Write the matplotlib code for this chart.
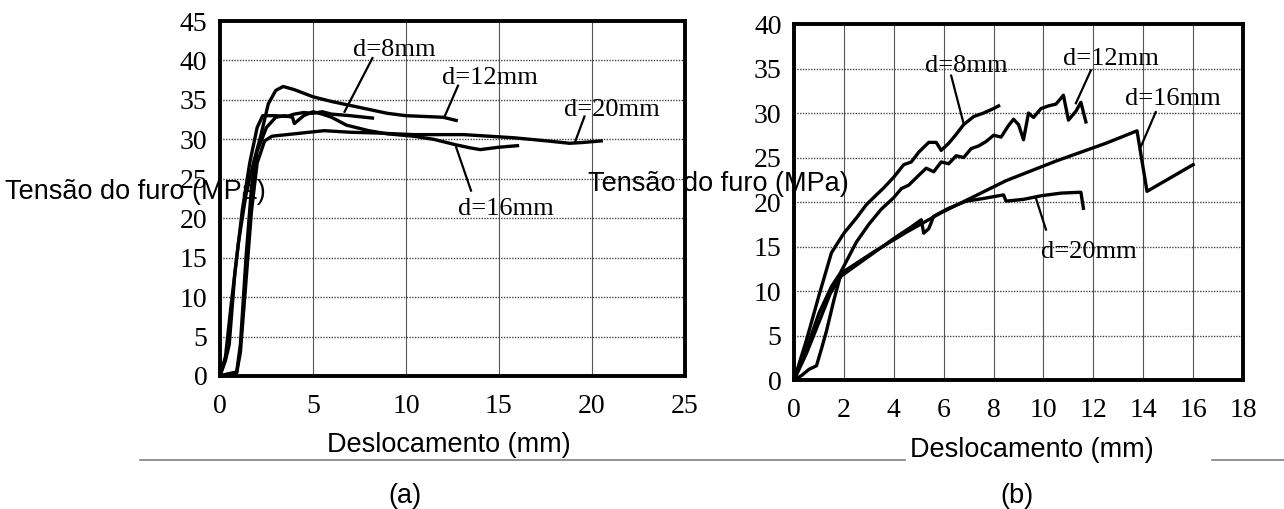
import matplotlib
matplotlib.use('Agg')
import matplotlib.pyplot as plt
from matplotlib.lines import Line2D

# ---- panel (a) data ----
a8_x = [0, 0.3, 0.5, 0.8, 1.2, 1.6, 2.0, 2.3, 3.0, 3.6, 4.0, 4.5, 5.0, 5.5, 6.0, 7.0, 8.2]
a8_y = [0, 2, 4, 13, 21, 27, 31.5, 33.0, 33.0, 32.9, 33.2, 33.4, 33.3, 33.5, 33.2, 33.0, 32.7]
a12_x = [0, 0.3, 0.6, 1.0, 1.4, 1.8, 2.2, 2.6, 3.0, 3.4, 4.0, 5.0, 6.0, 7.0, 8.0, 9.0, 10.0, 11.0, 12.0, 12.7]
a12_y = [0, 2.5, 9, 17, 23, 27, 30.5, 34.5, 36.2, 36.7, 36.3, 35.4, 34.8, 34.3, 33.8, 33.3, 33.0, 32.9, 32.8, 32.4]
a16_x = [0, 0.5, 0.9, 1.1, 1.4, 1.7, 2.0, 2.5, 3.0, 3.5, 3.9, 4.0, 4.5, 5.0, 5.5, 6.0, 6.8, 8.0, 9.0,
         10.4, 11.5, 12.7, 13.5, 14.0, 15.0, 16.0]
a16_y = [0, 0.3, 0.5, 4, 15, 24, 28.5, 31.5, 32.8, 33.0, 32.8, 32.0, 33.0, 33.5, 33.2, 32.8, 31.8, 31.1, 30.7,
         30.4, 30.0, 29.3, 28.9, 28.7, 29.0, 29.2]
a20_x = [0, 0.5, 0.9, 1.1, 1.4, 1.7, 2.0, 2.4, 2.8, 4.0, 5.6, 7.0, 8.5, 10.4, 13.1, 15.8, 17.6, 18.8, 19.5, 20.5]
a20_y = [0, 0.3, 0.4, 3, 12, 21, 27, 29.8, 30.4, 30.7, 31.1, 30.9, 30.8, 30.6, 30.6, 30.2, 29.8, 29.5, 29.6, 29.8]

# ---- panel (b) data ----
b8_x = [0, 0.5, 1.0, 1.5, 2.0, 2.5, 2.9, 3.3, 3.6, 4.0, 4.4, 4.7, 5.0, 5.4, 5.7, 5.9, 6.2, 6.5, 6.8,
        7.2, 7.6, 8.0, 8.2]
b8_y = [0, 4.5, 9.5, 14.3, 16.5, 18.2, 19.7, 20.8, 21.6, 22.8, 24.2, 24.5, 25.6, 26.7, 26.7, 25.8, 26.6,
        27.6, 28.7, 29.6, 30.0, 30.5, 30.8]
b12_x = [0, 0.5, 1.0, 1.5, 1.85, 2.5, 3.0, 3.5, 4.0, 4.3, 4.6, 5.0, 5.3, 5.6, 5.9, 6.2, 6.5, 6.8, 7.1, 7.4,
         7.7, 8.0, 8.3, 8.6, 8.8, 9.0, 9.2, 9.4, 9.6, 9.9, 10.2, 10.5, 10.8, 11.0, 11.3, 11.5, 11.7]
b12_y = [0, 3.5, 7.5, 10.5, 12.0, 15.5, 17.5, 19.2, 20.5, 21.5, 21.9, 23.0, 23.8, 23.4, 24.5, 24.3, 25.2,
         25.0, 26.0, 26.3, 26.8, 27.5, 27.3, 28.6, 29.3, 28.7, 27.0, 30.0, 29.5, 30.5, 30.8, 31.0, 32.0,
         29.2, 30.2, 31.2, 29.0]
b16_x = [0, 0.5, 1.0, 1.45, 2.0, 3.2, 4.5, 5.9, 7.2, 8.5, 10.5, 12.5, 13.75, 14.15, 16.0]
b16_y = [0, 3, 6.5, 9.7, 12.2, 14.4, 16.6, 18.8, 20.6, 22.4, 24.6, 26.6, 28.0, 21.2, 24.2]
b20_x = [0, 0.3, 0.6, 0.9, 1.1, 1.3, 1.6, 1.85, 2.5, 3.2, 4.0, 4.7, 5.1, 5.2, 5.4, 5.6, 6.2, 6.9, 7.6,
         8.4, 8.5, 9.2, 9.9, 10.7, 11.5, 11.6]
b20_y = [0, 0.5, 1.2, 1.6, 3.5, 5.5, 9.0, 11.6, 12.9, 14.3, 15.9, 17.2, 18.0, 16.5, 17.0, 18.4, 19.3,
         20.1, 20.4, 20.8, 20.1, 20.3, 20.7, 21.0, 21.1, 19.3]

# labels: text, text position, leader start, leader end
a_labels = [('d=8mm', (9.4, 41.3), (8.2, 40.3), (6.7, 33.5)),
            ('d=12mm', (14.5, 37.8), (12.8, 36.8), (12.1, 33.0)),
            ('d=20mm', (21.1, 33.7), (19.6, 32.9), (19.1, 29.7)),
            ('d=16mm', (15.4, 21.2), (12.7, 29.0), (13.5, 23.5))]
b_labels = [('d=8mm', (6.9, 35.3), (6.3, 34.2), (6.8, 28.8)),
            ('d=12mm', (12.7, 36.1), (11.9, 34.8), (11.3, 31.1)),
            ('d=16mm', (15.2, 31.6), (14.5, 30.1), (13.9, 26.2)),
            ('d=20mm', (11.8, 14.4), (10.1, 16.9), (9.7, 20.4))]

serif = 'Liberation Serif'
sans = 'Liberation Sans'

fig = plt.figure(figsize=(12.84, 5.09), dpi=100)
ax1 = fig.add_axes([0.1713, 0.2613, 0.3621, 0.6974])
ax2 = fig.add_axes([0.6184, 0.2534, 0.3497, 0.6994])


def style_axes(ax, xmax, ymax, xstep, ystep):
    ax.set_xlim(0, xmax)
    ax.set_ylim(0, ymax)
    ax.set_xticks(range(0, xmax + 1, xstep))
    ax.set_yticks(range(0, ymax + 1, ystep))
    for x in range(xstep, xmax, xstep):
        ax.axvline(x, color='#555555', lw=0.8, zorder=1)
    for y in range(ystep, ymax, ystep):
        ax.axhline(y, color='#444444', lw=1.0, ls=(0, (1, 1)), zorder=1)
    for s in ax.spines.values():
        s.set_linewidth(2.8)
    ax.tick_params(length=0)
    ax.tick_params(axis='x', pad=13)
    ax.tick_params(axis='y', pad=9)
    for lab in ax.get_xticklabels() + ax.get_yticklabels():
        lab.set_fontfamily(serif)
        lab.set_fontsize(20)


style_axes(ax1, 25, 45, 5, 5)
style_axes(ax2, 18, 40, 2, 5)

for x, y in [(a8_x, a8_y), (a12_x, a12_y), (a16_x, a16_y), (a20_x, a20_y)]:
    ax1.plot(x, y, color='black', lw=2.4, zorder=3, solid_joinstyle='round')
for x, y in [(b8_x, b8_y), (b12_x, b12_y), (b16_x, b16_y), (b20_x, b20_y)]:
    ax2.plot(x, y, color='black', lw=2.4, zorder=3, solid_joinstyle='round')

for ax, labels in [(ax1, a_labels), (ax2, b_labels)]:
    for txt, pos, p0, p1 in labels:
        ax.text(pos[0], pos[1], txt, family=serif, fontsize=19, ha='center', va='center',
                zorder=4, clip_on=False)
        ax.plot([p0[0], p1[0]], [p0[1], p1[1]], color='black', lw=1.6, zorder=4, clip_on=False)

# y labels (horizontal, overlapping the axes as in the source)
fig.text(5 / 1284, 1 - 192 / 509, 'Tensão do furo (MPa)', family=sans, fontsize=19.5, ha='left', va='center',
         zorder=10)
fig.text(588 / 1284, 1 - 184 / 509, 'Tensão do furo (MPa)', family=sans, fontsize=19.5, ha='left', va='center',
         zorder=10)

# x labels and panel captions
fig.text(449 / 1284, 1 - 445 / 509, 'Deslocamento (mm)', family=sans, fontsize=19.5, ha='center', va='center')
fig.text(1032 / 1284, 1 - 450 / 509, 'Deslocamento (mm)', family=sans, fontsize=19.5, ha='center', va='center')
fig.text(405 / 1284, 1 - 496 / 509, '(a)', family=sans, fontsize=19.5, ha='center', va='center')
fig.text(1017 / 1284, 1 - 496 / 509, '(b)', family=sans, fontsize=19.5, ha='center', va='center')

# grey separator lines under the x labels
yl = 1 - 460 / 509
fig.add_artist(Line2D([140 / 1284, 905 / 1284], [yl, yl], color='#808080', lw=1.2))
fig.add_artist(Line2D([1212 / 1284, 1.0], [yl, yl], color='#808080', lw=1.2))

fig.savefig('out.png', dpi=100, facecolor='white')
